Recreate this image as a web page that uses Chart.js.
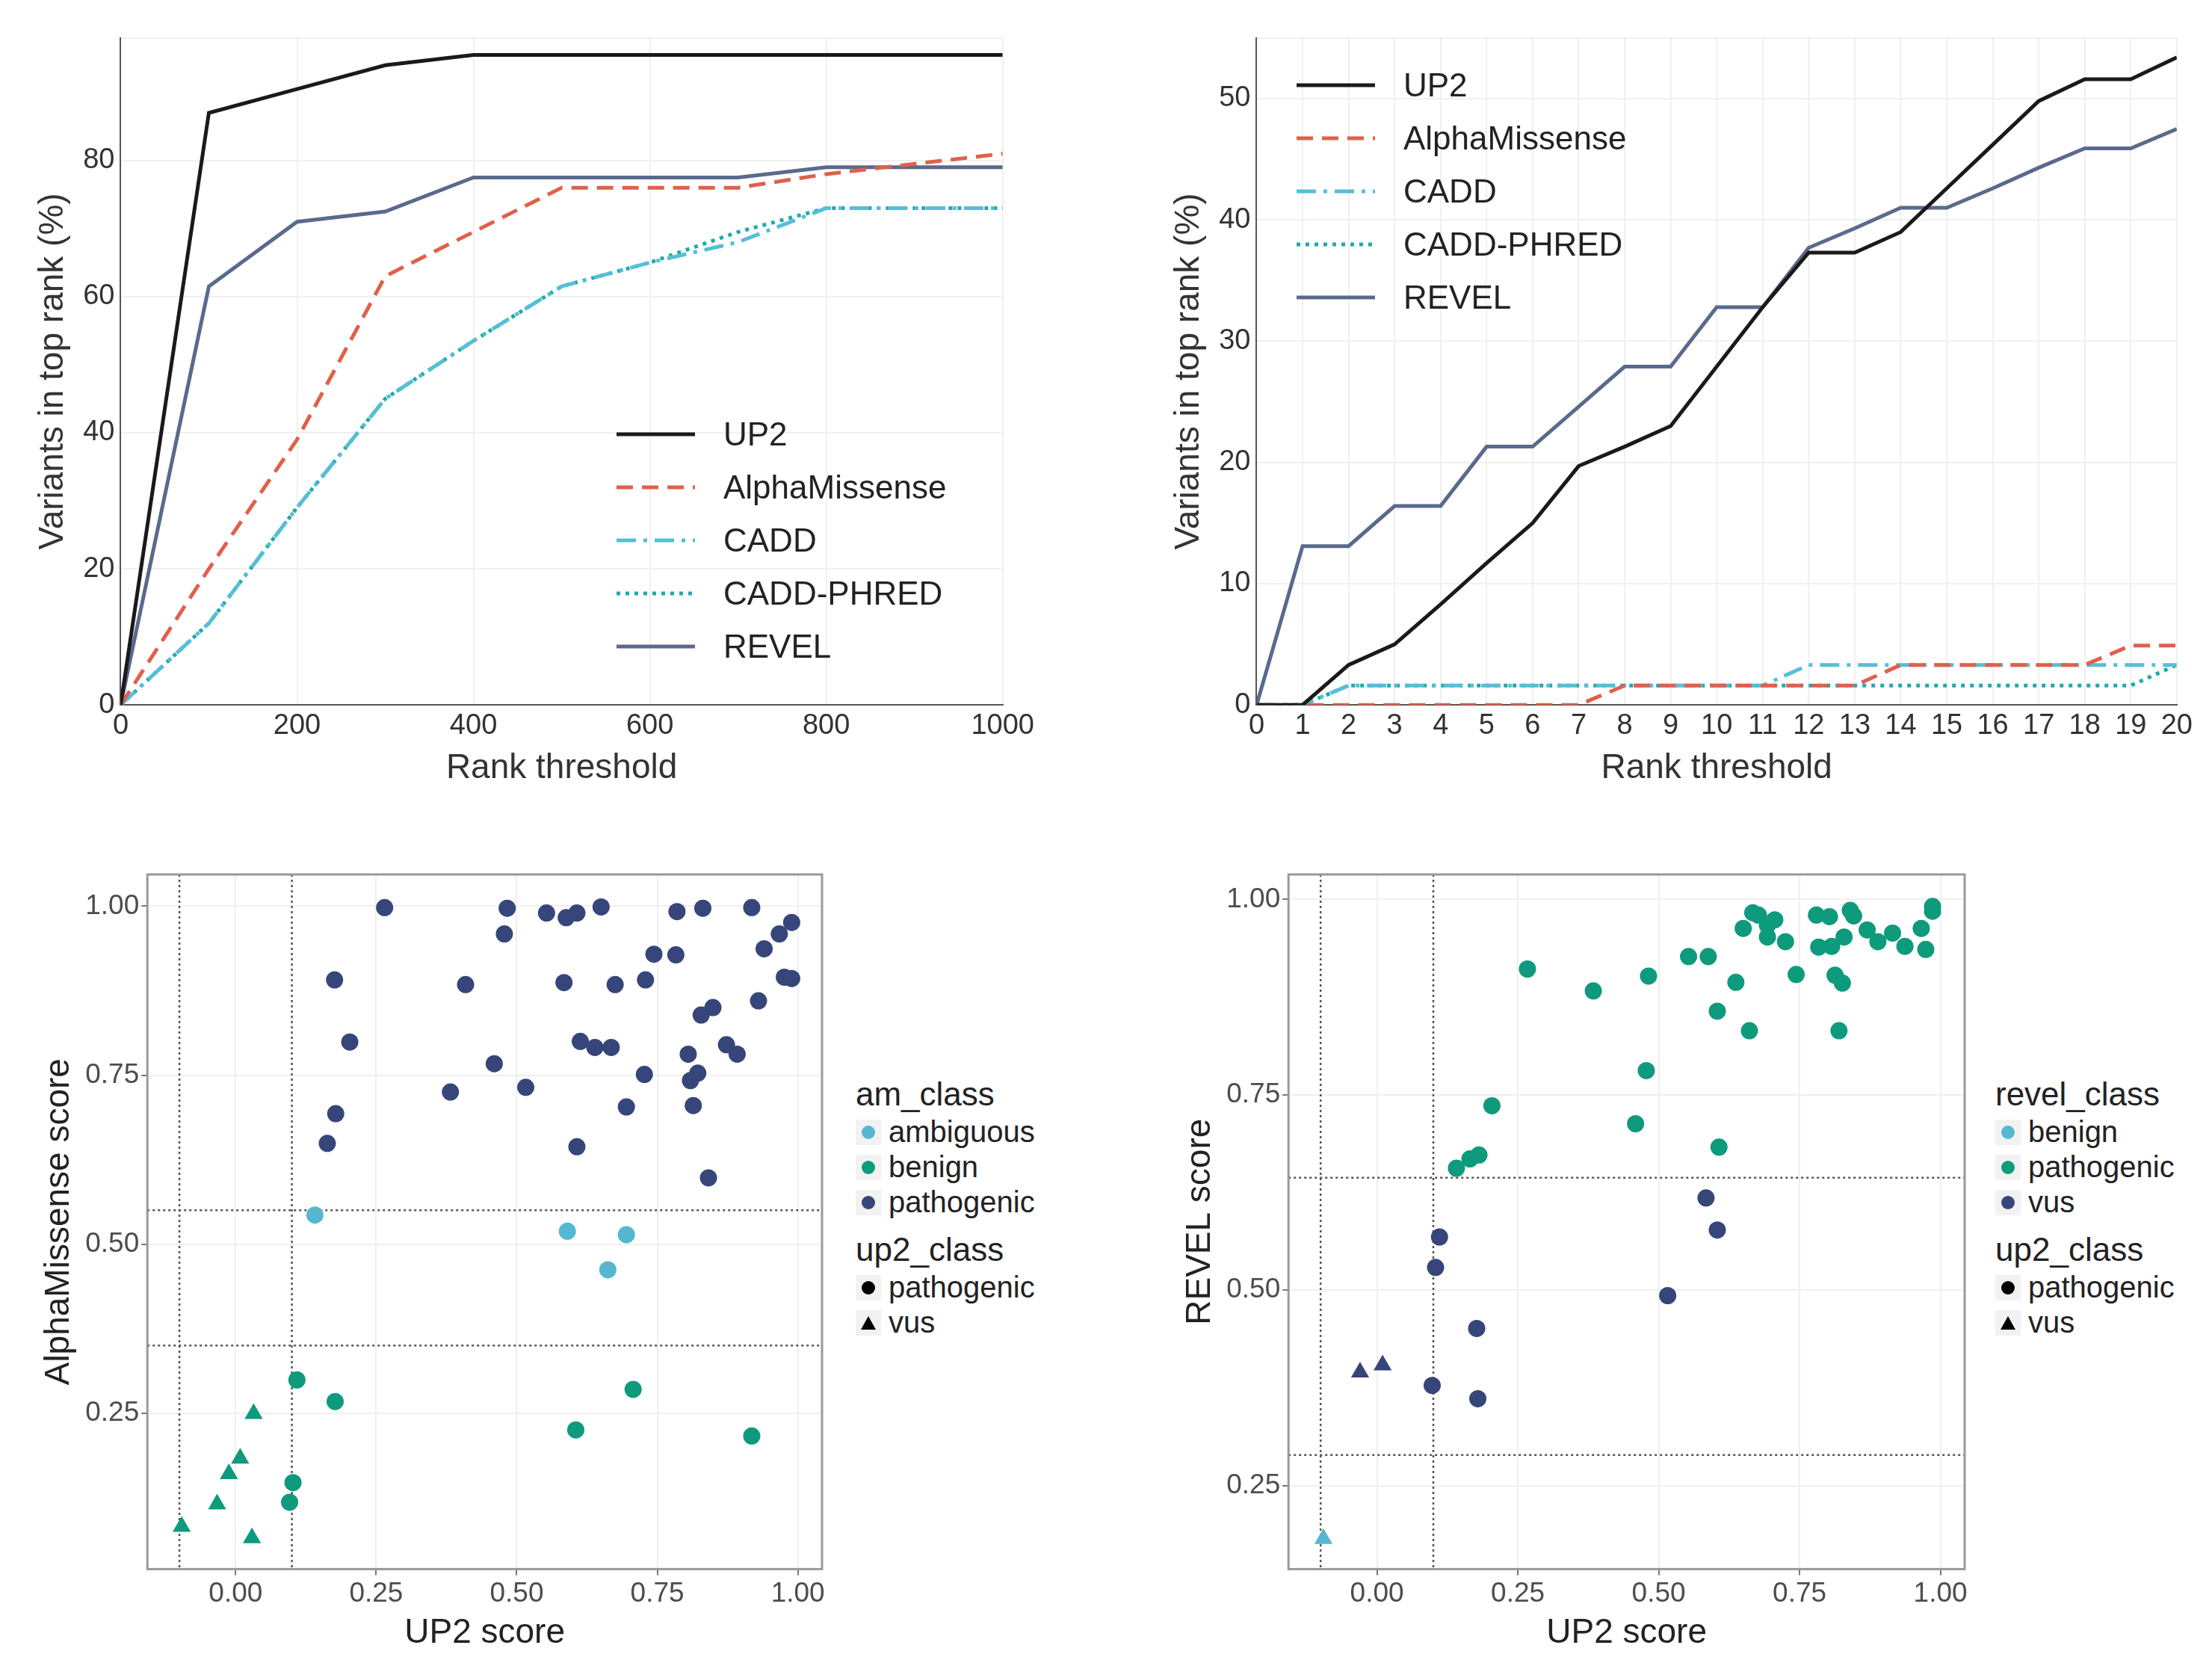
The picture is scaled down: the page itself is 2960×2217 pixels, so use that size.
<!DOCTYPE html>
<html lang="en">
<head>
<meta charset="UTF-8">
<title>Rank and score comparison</title>
<script src="https://cdn.jsdelivr.net/npm/chart.js"></script>
<style>
  body { margin: 0; width: 2960px; height: 2217px; background: #fff; font-family: 'Liberation Sans', Arial, sans-serif; position: relative; overflow: hidden; }
  .panel { position: absolute; }
  .legend { position: absolute; color: #222; font-size: 44px; line-height: 71px; }
  .legend .row { display: flex; align-items: center; }
  .legend svg { margin-right: 38px; }
  .slegend { position: absolute; color: #222; font-size: 40px; line-height: 47px; }
  .slegend .title { font-size: 44px; margin-bottom: 4px; }
  .slegend .row { display: flex; align-items: center; }
  .slegend .key { width: 34px; height: 34px; background: #f2f2f2; margin-right: 10px; display: flex; align-items: center; justify-content: center; }
</style>
</head>
<body>
<div class="panel" style="left:40px;top:20px;width:1350px;height:1040px"><canvas id="rankTop1000"></canvas></div>
<div class="panel" style="left:1560px;top:20px;width:1380px;height:1040px"><canvas id="rankTop20"></canvas></div>
<div class="panel" style="left:48px;top:1140px;width:1072px;height:1077px"><canvas id="amScatter"></canvas></div>
<div class="panel" style="left:1575px;top:1140px;width:1074px;height:1077px"><canvas id="revelScatter"></canvas></div>

<div class="legend" id="legend1" style="left:825px;top:545px"></div>
<div class="legend" id="legend2" style="left:1735px;top:78px"></div>
<div class="slegend" id="slegend1" style="left:1145px;top:1440px"></div>
<div class="slegend" id="slegend2" style="left:2670px;top:1440px"></div>

<script>
// ---- top panels: share of variants within rank threshold ----
const thresholds1000 = [0, 100, 200, 300, 400, 500, 600, 700, 800, 900, 1000];
const up2_1000   = [0, 87, 90.5, 94, 95.5, 95.5, 95.5, 95.5, 95.5, 95.5, 95.5];
const am_1000    = [0, 20, 39, 63, 69.5, 76, 76, 76, 78, 79.5, 81];
const cadd_1000  = [0, 12, 29, 45, 53.5, 61.5, 65, 68, 73, 73, 73];
const phred_1000 = [0, 12, 29, 45, 53.5, 61.5, 65, 69.5, 73, 73, 73];
const revel_1000 = [0, 61.5, 71, 72.5, 77.5, 77.5, 77.5, 77.5, 79, 79, 79];

const thresholds20 = [0,1,2,3,4,5,6,7,8,9,10,11,12,13,14,15,16,17,18,19,20];
const up2_20   = [0,0,3.3,5,8.3,11.7,15,19.7,21.3,23,27.9,32.8,37.3,37.3,39,42.6,46.2,49.8,51.6,51.6,53.4];
const am_20    = [0,0,0,0,0,0,0,0,1.6,1.6,1.6,1.6,1.6,1.6,3.3,3.3,3.3,3.3,3.3,4.9,4.9];
const cadd_20  = [0,0,1.6,1.6,1.6,1.6,1.6,1.6,1.6,1.6,1.6,1.6,3.3,3.3,3.3,3.3,3.3,3.3,3.3,3.3,3.3];
const phred_20 = [0,0,1.6,1.6,1.6,1.6,1.6,1.6,1.6,1.6,1.6,1.6,1.6,1.6,1.6,1.6,1.6,1.6,1.6,1.6,3.3];
const revel_20 = [0,13.1,13.1,16.4,16.4,21.3,21.3,24.6,27.9,27.9,32.8,32.8,37.7,39.3,41,41,42.6,44.3,45.9,45.9,47.5];

const methods = ['UP2', 'AlphaMissense', 'CADD', 'CADD-PHRED', 'REVEL'];
const lineStyles = [
  { color: '#1a1a1a', dash: [] },
  { color: '#e0604a', dash: [22, 12] },
  { color: '#55bfd6', dash: [26, 10, 5, 10] },
  { color: '#20a9ad', dash: [5, 7] },
  { color: '#5a6a8c', dash: [] }
];

const tickFont = { family: 'Liberation Sans', size: 38 };
const titleFont = { family: 'Liberation Sans', size: 46 };
const sTickFont = { family: 'Liberation Sans', size: 37 };

function lineDatasets(series) {
  return series.map((vals, i) => ({
    label: methods[i],
    data: vals,
    borderColor: lineStyles[i].color,
    borderDash: lineStyles[i].dash,
    borderWidth: 5,
    pointRadius: 0,
    tension: 0,
    fill: false
  }));
}

function rankChart(id, xs, series, xMax, xStep, yMax, yStep) {
  new Chart(document.getElementById(id), {
    type: 'line',
    data: { datasets: lineDatasets(series.map(s => s.map((v, k) => ({ x: xs[k], y: v })))) },
    options: {
      responsive: true, maintainAspectRatio: false, animation: false,
      plugins: { legend: { display: false }, tooltip: { enabled: false } },
      layout: { padding: { right: 10, top: 20 } },
      scales: {
        x: {
          type: 'linear', min: 0, max: xMax,
          ticks: { stepSize: xStep, font: tickFont, color: '#333', padding: 6, callback: v => String(v) },
          grid: { color: '#f0f0f0', lineWidth: 2, drawTicks: false },
          border: { color: '#555', width: 2 },
          title: { display: true, text: 'Rank threshold', font: titleFont, color: '#333', padding: { top: 0 } }
        },
        y: {
          min: 0, max: yMax,
          ticks: { stepSize: yStep, font: tickFont, color: '#333', padding: 8, callback: v => (v % yStep === 0 ? String(v) : '') },
          grid: { color: '#f0f0f0', lineWidth: 2, drawTicks: false },
          border: { color: '#555', width: 2 },
          title: { display: true, text: 'Variants in top rank (%)', font: titleFont, color: '#333' }
        }
      }
    }
  });
}

rankChart('rankTop1000', thresholds1000, [up2_1000, am_1000, cadd_1000, phred_1000, revel_1000], 1000, 200, 98, 20);
rankChart('rankTop20', thresholds20, [up2_20, am_20, cadd_20, phred_20, revel_20], 20, 1, 55, 10);

function buildLineLegend(el) {
  el.innerHTML = methods.map((m, i) =>
    `<div class="row"><svg width="105" height="10"><line x1="0" y1="5" x2="105" y2="5" stroke="${lineStyles[i].color}" stroke-width="5" stroke-dasharray="${lineStyles[i].dash.join(' ')}"/></svg>${m}</div>`
  ).join('');
}
buildLineLegend(document.getElementById('legend1'));
buildLineLegend(document.getElementById('legend2'));

// ---- bottom panels: scores ----
const navy = '#36467a', green = '#0e9a7c', lightBlue = '#55b7d0';

// AlphaMissense vs UP2, [up2, am]
const amPathogenicCircles = [[0.265,0.998],[0.483,0.997],[0.478,0.959],[0.553,0.990],[0.588,0.983],[0.607,0.990],[0.650,0.999],[0.785,0.992],[0.831,0.997],[0.918,0.998],[0.989,0.976],[0.967,0.959],[0.940,0.937],[0.744,0.929],[0.783,0.928],[0.176,0.891],[0.409,0.884],[0.584,0.887],[0.675,0.884],[0.729,0.891],[0.976,0.895],[0.989,0.893],[0.930,0.860],[0.828,0.839],[0.849,0.850],[0.203,0.799],[0.613,0.800],[0.639,0.791],[0.668,0.791],[0.805,0.781],[0.873,0.795],[0.892,0.781],[0.460,0.767],[0.727,0.751],[0.809,0.742],[0.822,0.753],[0.382,0.725],[0.516,0.732],[0.178,0.693],[0.695,0.703],[0.814,0.705],[0.163,0.649],[0.607,0.644],[0.841,0.598]];
const amAmbiguousCircles = [[0.141,0.543],[0.590,0.519],[0.695,0.514],[0.662,0.462]];
const amBenignCircles = [[0.109,0.299],[0.177,0.267],[0.707,0.285],[0.605,0.225],[0.918,0.216],[0.102,0.147],[0.096,0.118]];
const amBenignTriangles = [[0.032,0.249],[0.008,0.183],[-0.012,0.160],[-0.033,0.115],[-0.096,0.082],[0.029,0.065]];
const amVLines = [-0.1, 0.1];
const amHLines = [0.55, 0.35];

// REVEL vs UP2, [up2, revel]
const revelPathogenicCircles = [[0.267,0.911],[0.384,0.883],[0.482,0.902],[0.553,0.927],[0.588,0.927],[0.637,0.894],[0.604,0.857],[0.661,0.832],[0.650,0.963],[0.667,0.983],[0.677,0.980],[0.693,0.967],[0.706,0.974],[0.693,0.952],[0.725,0.946],[0.744,0.904],[0.780,0.980],[0.803,0.978],[0.784,0.939],[0.807,0.940],[0.829,0.952],[0.813,0.903],[0.826,0.893],[0.820,0.832],[0.840,0.986],[0.846,0.979],[0.870,0.961],[0.889,0.946],[0.915,0.957],[0.937,0.940],[0.966,0.963],[0.974,0.936],[0.986,0.991],[0.986,0.985],[0.478,0.781],[0.459,0.713],[0.607,0.683],[0.204,0.736],[0.141,0.656],[0.165,0.668],[0.181,0.673]];
const revelVusCircles = [[0.584,0.618],[0.604,0.577],[0.111,0.568],[0.104,0.529],[0.516,0.493],[0.177,0.451],[0.098,0.378],[0.179,0.361]];
const revelVusTriangles = [[-0.030,0.395],[0.010,0.404]];
const revelBenignTriangles = [[-0.095,0.182]];
const revelVLines = [-0.1, 0.1];
const revelHLines = [0.644, 0.289];

const toPts = arr => arr.map(p => ({ x: p[0], y: p[1] }));

function scatterSet(arr, color, shape) {
  return {
    data: toPts(arr), backgroundColor: color, borderColor: color,
    pointStyle: shape, pointRadius: shape === 'triangle' ? 14 : 11.5, borderWidth: 0
  };
}

function thresholdPlugin(vLines, hLines) {
  return {
    id: 'thresholds',
    beforeDatasetsDraw(chart) {
      const { ctx, chartArea: a, scales: { x, y } } = chart;
      ctx.save();
      ctx.strokeStyle = '#555';
      ctx.lineWidth = 2.5;
      ctx.setLineDash([3, 4]);
      vLines.forEach(v => { const px = x.getPixelForValue(v); ctx.beginPath(); ctx.moveTo(px, a.top); ctx.lineTo(px, a.bottom); ctx.stroke(); });
      hLines.forEach(v => { const py = y.getPixelForValue(v); ctx.beginPath(); ctx.moveTo(a.left, py); ctx.lineTo(a.right, py); ctx.stroke(); });
      ctx.restore();
    },
    afterDraw(chart) {
      const { ctx, chartArea: a } = chart;
      ctx.save();
      ctx.strokeStyle = '#999';
      ctx.lineWidth = 3;
      ctx.strokeRect(a.left, a.top, a.right - a.left, a.bottom - a.top);
      ctx.restore();
    }
  };
}

function scoreChart(id, datasets, yTitle, yMin, yMax, vLines, hLines) {
  new Chart(document.getElementById(id), {
    type: 'scatter',
    data: { datasets },
    plugins: [thresholdPlugin(vLines, hLines)],
    options: {
      responsive: true, maintainAspectRatio: false, animation: false,
      plugins: { legend: { display: false }, tooltip: { enabled: false } },
      layout: { padding: { right: 20, top: 30 } },
      scales: {
        x: {
          min: -0.157, max: 1.043,
          afterBuildTicks: s => { s.ticks = [0, 0.25, 0.5, 0.75, 1].map(v => ({ value: v })); },
          ticks: { font: sTickFont, color: '#4d4d4d', callback: v => v.toFixed(2) },
          grid: { color: '#efefef', lineWidth: 2, drawTicks: true, tickColor: '#777', tickLength: 8 },
          border: { display: false },
          title: { display: true, text: 'UP2 score', font: titleFont, color: '#222', padding: { top: 0 } }
        },
        y: {
          min: yMin, max: yMax,
          afterBuildTicks: s => { s.ticks = [0.25, 0.5, 0.75, 1].map(v => ({ value: v })); },
          ticks: { font: sTickFont, color: '#4d4d4d', callback: v => v.toFixed(2) },
          grid: { color: '#efefef', lineWidth: 2, drawTicks: true, tickColor: '#777', tickLength: 8 },
          border: { display: false },
          title: { display: true, text: yTitle, font: titleFont, color: '#222' }
        }
      }
    }
  });
}

scoreChart('amScatter', [
  scatterSet(amPathogenicCircles, navy, 'circle'),
  scatterSet(amAmbiguousCircles, lightBlue, 'circle'),
  scatterSet(amBenignCircles, green, 'circle'),
  scatterSet(amBenignTriangles, green, 'triangle')
], 'AlphaMissense score', 0.019, 1.047, amVLines, amHLines);

scoreChart('revelScatter', [
  scatterSet(revelPathogenicCircles, green, 'circle'),
  scatterSet(revelVusCircles, navy, 'circle'),
  scatterSet(revelVusTriangles, navy, 'triangle'),
  scatterSet(revelBenignTriangles, lightBlue, 'triangle')
], 'REVEL score', 0.143, 1.032, revelVLines, revelHLines);

const dot = c => `<svg width="22" height="22"><circle cx="11" cy="11" r="9" fill="${c}"/></svg>`;
const tri = c => `<svg width="22" height="22"><polygon points="11,2 21,20 1,20" fill="${c}"/></svg>`;
function buildScatterLegend(el, title, classes, colors) {
  let html = `<div class="title">${title}</div>`;
  classes.forEach((c, i) => { html += `<div class="row"><span class="key">${dot(colors[i])}</span>${c}</div>`; });
  html += `<div class="title" style="margin-top:16px">up2_class</div>`;
  html += `<div class="row"><span class="key">${dot('#000')}</span>pathogenic</div>`;
  html += `<div class="row"><span class="key">${tri('#000')}</span>vus</div>`;
  el.innerHTML = html;
}
buildScatterLegend(document.getElementById('slegend1'), 'am_class', ['ambiguous', 'benign', 'pathogenic'], [lightBlue, green, navy]);
buildScatterLegend(document.getElementById('slegend2'), 'revel_class', ['benign', 'pathogenic', 'vus'], [lightBlue, green, navy]);
</script>
</body>
</html>
